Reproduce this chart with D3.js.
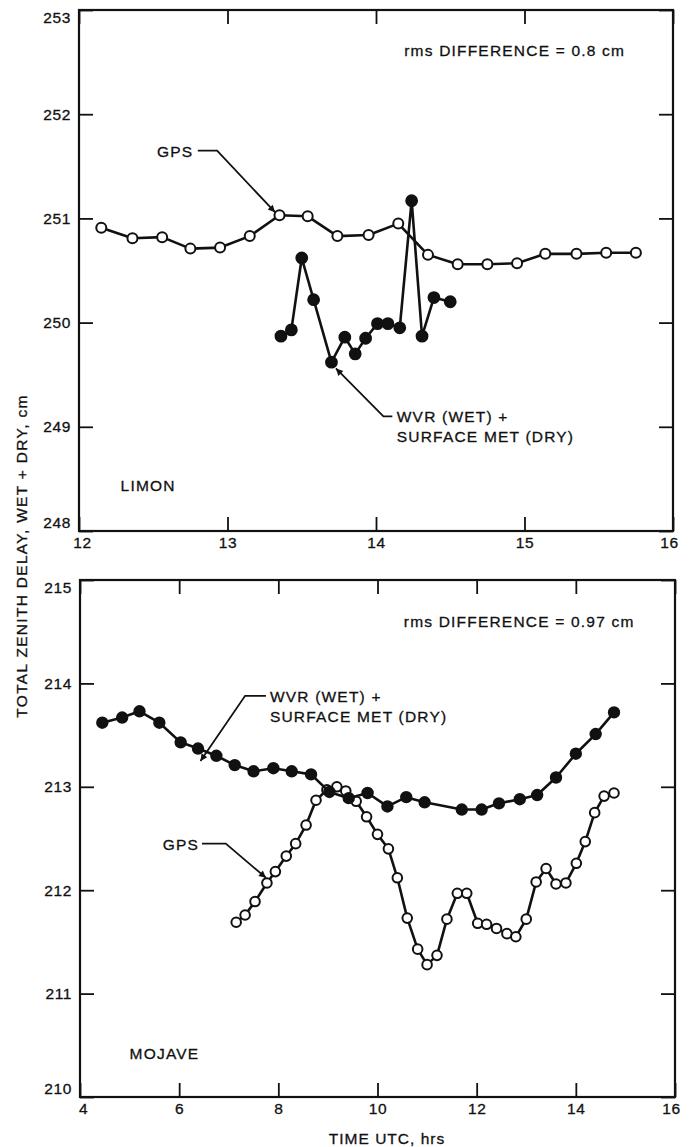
<!DOCTYPE html>
<html>
<head>
<meta charset="utf-8">
<script src="https://cdn.jsdelivr.net/npm/d3@7"></script>
<style>
  body { margin: 0; background: #fff; }
  svg text { font-family: "Liberation Sans", Arial, sans-serif; fill: #111; stroke: #111; stroke-width: 0.3; }
</style>
</head>
<body>
<svg id="chart" width="697" height="1147"></svg>
<script>
// LIMON (top panel)
const limonGpsTime = [12.15, 12.36, 12.56, 12.75, 12.95, 13.15, 13.35, 13.54, 13.74, 13.95, 14.15, 14.35, 14.55, 14.75, 14.95, 15.14, 15.35, 15.55, 15.75];
const limonGps     = [250.91, 250.81, 250.82, 250.71, 250.72, 250.83, 251.03, 251.02, 250.83, 250.84, 250.95, 250.65, 250.56, 250.56, 250.57, 250.66, 250.66, 250.67, 250.67];
const limonWvrTime = [13.36, 13.43, 13.50, 13.58, 13.70, 13.79, 13.86, 13.93, 14.01, 14.08, 14.16, 14.24, 14.31, 14.39, 14.50];
const limonWvr     = [249.87, 249.93, 250.62, 250.22, 249.62, 249.86, 249.70, 249.85, 249.99, 249.99, 249.95, 251.17, 249.87, 250.24, 250.20];
const limonXTicks = [12, 13, 14, 15, 16];
const limonYTicks = [248, 249, 250, 251, 252, 253];

// MOJAVE (bottom panel)
const mojaveGpsTime = [7.15, 7.33, 7.53, 7.77, 7.94, 8.16, 8.35, 8.56, 8.76, 8.98, 9.18, 9.36, 9.57, 9.78, 10.0, 10.22, 10.4, 10.6, 10.81, 11.0,
                       11.2, 11.4, 11.61, 11.8, 12.02, 12.2, 12.4, 12.61, 12.79, 13.0, 13.2, 13.4, 13.6, 13.8, 14.01, 14.19, 14.38, 14.57, 14.77];
const mojaveGps     = [211.69, 211.76, 211.89, 212.07, 212.18, 212.33, 212.45, 212.63, 212.87, 212.97, 213.0, 212.96, 212.86, 212.71, 212.54, 212.4, 212.12, 211.73, 211.43, 211.28,
                       211.37, 211.72, 211.97, 211.97, 211.68, 211.67, 211.63, 211.58, 211.55, 211.72, 212.08, 212.21, 212.06, 212.07, 212.26, 212.47, 212.75, 212.91, 212.94];
const mojaveWvrTime = [4.45, 4.85, 5.2, 5.6, 6.03, 6.38, 6.75, 7.12, 7.5, 7.9, 8.27, 8.66, 9.03, 9.42, 9.8, 10.2, 10.58, 10.95, 11.7, 12.1, 12.45, 12.87, 13.22, 13.6, 14.0, 14.4, 14.77];
const mojaveWvr     = [213.62, 213.67, 213.73, 213.62, 213.43, 213.37, 213.30, 213.21, 213.15, 213.18, 213.15, 213.12, 212.95, 212.89, 212.94, 212.81, 212.90, 212.85, 212.78, 212.78, 212.84, 212.88, 212.92, 213.09, 213.32, 213.51, 213.72];
const mojaveXTicks = [4, 6, 8, 10, 12, 14, 16];
const mojaveYTicks = [210, 211, 212, 213, 214, 215];

const svg = d3.select("#chart");

// y axis title shared by both panels
svg.append("text")
  .attr("transform", "translate(21,556) rotate(-90)")
  .attr("text-anchor", "middle")
  .attr("dominant-baseline", "central")
  .attr("font-size", 15.5)
  .attr("letter-spacing", 1.3)
  .text("TOTAL ZENITH DELAY, WET + DRY, cm");

svg.append("text")
  .attr("x", 387).attr("y", 1138)
  .attr("text-anchor", "middle")
  .attr("dominant-baseline", "central")
  .attr("font-size", 15.5)
  .attr("letter-spacing", 1)
  .text("TIME UTC, hrs");

// arrowhead
svg.append("defs").append("marker")
  .attr("id", "arrow")
  .attr("viewBox", "0 0 10 10")
  .attr("refX", 10).attr("refY", 5)
  .attr("markerWidth", 11).attr("markerHeight", 7)
  .attr("markerUnits", "userSpaceOnUse")
  .attr("orient", "auto")
  .append("path")
  .attr("d", "M0,0L10,5L0,10z")
  .attr("fill", "#111");

function drawPanel(cfg) {
  const x = d3.scaleLinear().domain(cfg.xDomain).range([cfg.left, cfg.right]);
  const y = d3.scaleLinear().domain(cfg.yDomain).range([cfg.bottom, cfg.top]);
  const g = svg.append("g");

  // ticks, all pointing inward
  const tickLen = 14;
  const axes = [
    { axis: d3.axisBottom(x).tickValues(cfg.xTicks).tickSize(-tickLen).tickPadding(6).tickFormat(d3.format("d")), at: `translate(0,${cfg.bottom})`, dir: "x" },
    { axis: d3.axisTop(x).tickValues(cfg.xTicks).tickSize(-tickLen).tickFormat(""), at: `translate(0,${cfg.top})` },
    { axis: d3.axisLeft(y).tickValues(cfg.yTicks).tickSize(-tickLen).tickPadding(8).tickFormat(d3.format("d")), at: `translate(${cfg.left},0)`, dir: "y" },
    { axis: d3.axisRight(y).tickValues(cfg.yTicks).tickSize(-tickLen).tickFormat(""), at: `translate(${cfg.right},0)` }
  ];
  axes.forEach(a => {
    const ag = g.append("g").attr("transform", a.at).call(a.axis);
    ag.select(".domain").remove();
    ag.selectAll(".tick line").attr("stroke", "#111").attr("stroke-width", 1.8);
    const txt = ag.selectAll(".tick text")
      .attr("font-size", 15.5)
      .attr("letter-spacing", 0.6)
      .attr("fill", "#111")
      .attr("font-family", "\"Liberation Sans\", Arial, sans-serif");
    // end labels sit a little inside the corners, as in the original
    const n = a.dir === "x" ? cfg.xTicks : cfg.yTicks;
    if (a.dir === "x") {
      txt.attr("dx", d => d === n[0] ? 3 : d === n[n.length - 1] ? -4 : 0);
    } else if (a.dir === "y") {
      txt.attr("dy", d => d === n[0] ? "-0.2em" : d === n[n.length - 1] ? "0.8em" : "0.32em");
    }
  });

  g.append("rect")
    .attr("x", cfg.left).attr("y", cfg.top)
    .attr("width", cfg.right - cfg.left).attr("height", cfg.bottom - cfg.top)
    .attr("fill", "none").attr("stroke", "#111").attr("stroke-width", 2.2);

  const line = d3.line().x(d => x(d[0])).y(d => y(d[1]));

  cfg.series.forEach(s => {
    const pts = s.time.map((t, i) => [t, s.value[i]]);
    g.append("path")
      .datum(pts)
      .attr("d", line)
      .attr("fill", "none")
      .attr("stroke", "#111")
      .attr("stroke-width", 2.6)
      .attr("stroke-linejoin", "round");
    g.selectAll(null)
      .data(pts)
      .enter()
      .append("circle")
      .attr("cx", d => x(d[0]))
      .attr("cy", d => y(d[1]))
      .attr("r", s.filled ? cfg.r + 0.4 : cfg.r)
      .attr("fill", s.filled ? "#111" : "#fff")
      .attr("stroke", "#111")
      .attr("stroke-width", 2);
  });

  // annotations with leader lines
  cfg.notes.forEach(n => {
    const t = g.append("text")
      .attr("x", x(n.at[0])).attr("y", y(n.at[1]))
      .attr("text-anchor", n.anchor)
      .attr("dominant-baseline", "central")
      .attr("font-size", 15.5)
      .attr("letter-spacing", 1.2);
    n.lines.forEach((l, i) => {
      t.append("tspan").attr("x", x(n.at[0])).attr("dy", i === 0 ? 0 : 20).text(l);
    });
    if (n.leader) {
      g.append("path")
        .attr("d", d3.line()(n.leader.map(p => [x(p[0]), y(p[1])])))
        .attr("fill", "none")
        .attr("stroke", "#111")
        .attr("stroke-width", 1.8)
        .attr("marker-end", "url(#arrow)");
    }
  });
}

drawPanel({
  left: 79, right: 673, top: 10, bottom: 531,
  xDomain: [12, 16], yDomain: [248, 253],
  xTicks: limonXTicks, yTicks: limonYTicks, r: 5.0,
  series: [
    { time: limonGpsTime, value: limonGps, filled: false },
    { time: limonWvrTime, value: limonWvr, filled: true }
  ],
  notes: [
    { lines: ["rms DIFFERENCE = 0.8 cm"], at: [14.19, 252.62], anchor: "start" },
    { lines: ["LIMON"], at: [12.28, 248.44], anchor: "start" },
    { lines: ["GPS"], at: [12.77, 251.65], anchor: "end",
      leader: [[12.80, 251.65], [12.93, 251.65], [13.32, 251.06]] },
    { lines: ["WVR (WET) +", "SURFACE MET (DRY)"], at: [14.14, 249.1], anchor: "start",
      leader: [[14.11, 249.1], [14.05, 249.1], [13.73, 249.56]] }
  ]
});

drawPanel({
  left: 80, right: 675, top: 580, bottom: 1097,
  xDomain: [4, 16], yDomain: [210, 215],
  xTicks: mojaveXTicks, yTicks: mojaveYTicks, r: 4.8,
  series: [
    { time: mojaveGpsTime, value: mojaveGps, filled: false },
    { time: mojaveWvrTime, value: mojaveWvr, filled: true }
  ],
  notes: [
    { lines: ["rms DIFFERENCE = 0.97 cm"], at: [10.53, 214.6], anchor: "start" },
    { lines: ["MOJAVE"], at: [5.0, 210.43], anchor: "start" },
    { lines: ["GPS"], at: [6.4, 212.45], anchor: "end",
      leader: [[6.46, 212.45], [6.94, 212.45], [7.75, 212.12]] },
    { lines: ["WVR (WET) +", "SURFACE MET (DRY)"], at: [7.83, 213.88], anchor: "start",
      leader: [[7.75, 213.88], [7.33, 213.88], [6.43, 213.25]] }
  ]
});
</script>
</body>
</html>
